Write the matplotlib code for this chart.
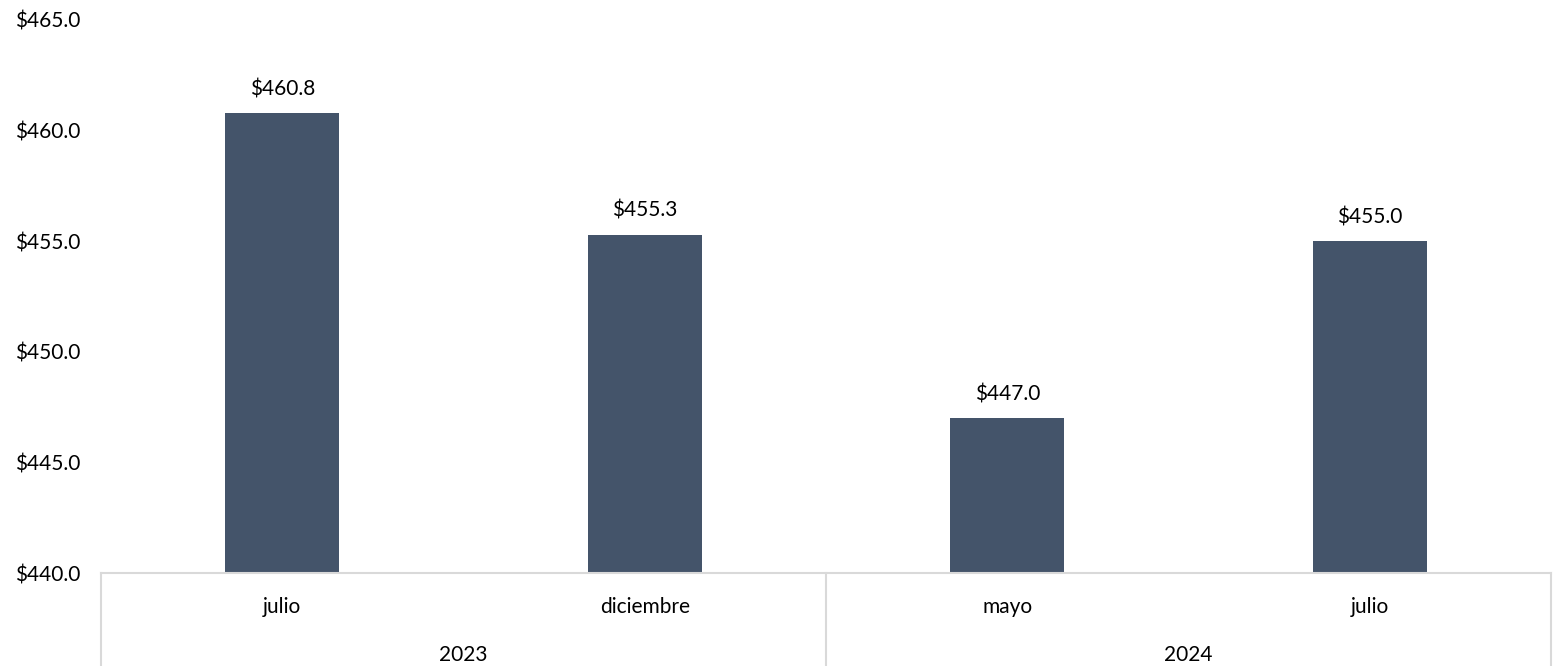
import matplotlib.pyplot as plt
from matplotlib.ticker import FuncFormatter

# datos
months = ['julio', 'diciembre', 'mayo', 'julio']
years = ['2023', '2024']
months_per_year = [2, 2]
values = [460.8, 455.3, 447.0, 455.0]

plt.rcParams['font.family'] = ['Lato', 'DejaVu Sans']

fig = plt.figure(figsize=(15.58, 6.66), dpi=100)
ax = fig.add_axes([0.0648, 0.1396, 0.9307, 0.8304])

x = list(range(len(values)))
bars = ax.bar(x, [v - 440 for v in values], bottom=440, width=0.315, color='#44546A')

for xi, v in zip(x, values):
    ax.annotate('$%.1f' % v, (xi, v), xytext=(0, 10), textcoords='offset points',
                ha='center', va='bottom', fontsize=15, color='#000000')

ax.set_xlim(-0.5, 3.5)
ax.set_ylim(440, 465)
ax.set_yticks([440, 445, 450, 455, 460, 465])
ax.yaxis.set_major_formatter(FuncFormatter(lambda v, p: '$%.1f' % v))
ax.tick_params(axis='y', length=0, labelsize=15, pad=15)
ax.set_xticks([])

for s in ['top', 'right', 'left']:
    ax.spines[s].set_visible(False)
ax.spines['bottom'].set_color('#D9D9D9')
ax.spines['bottom'].set_linewidth(1.5)

# etiquetas de categorias en dos niveles
trans = ax.get_xaxis_transform()
for xi, m in zip(x, months):
    ax.text(xi, -0.062, m, transform=trans, ha='center', va='center', fontsize=15)

start = 0
bounds = [-0.5]
for y, n in zip(years, months_per_year):
    center = start + (n - 1) / 2
    ax.text(center, -0.148, y, transform=trans, ha='center', va='center', fontsize=15)
    start += n
    bounds.append(start - 0.5)

for b in bounds:
    ax.plot([b, b], [0, -0.17], transform=trans, color='#D9D9D9', lw=1.5, clip_on=False)

fig.savefig('out.png', dpi=100)
